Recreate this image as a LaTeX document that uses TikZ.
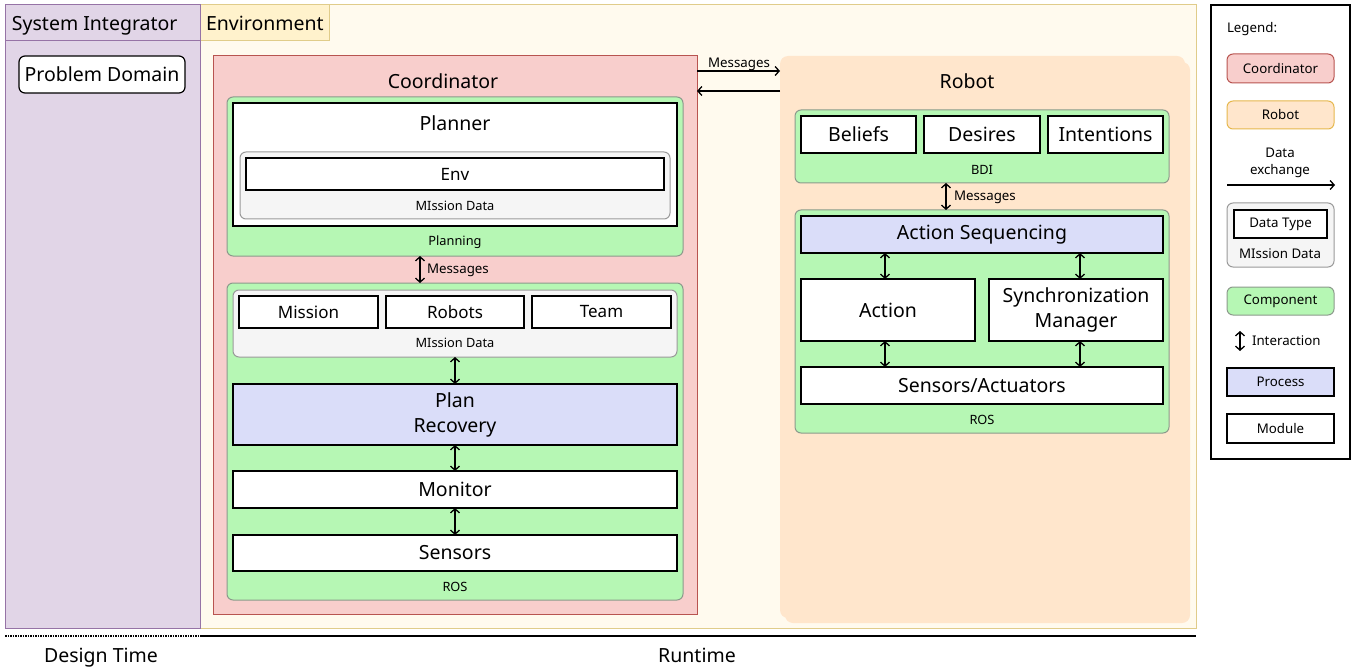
\documentclass[tikz,border=0pt]{standalone}
\usepackage{fontspec}
\setmainfont{Noto Sans}
\usetikzlibrary{arrows.meta,calc}

\definecolor{sifill}{HTML}{E1D5E7}
\definecolor{sidraw}{HTML}{9673A6}
\definecolor{envfill}{HTML}{FFFAEE}
\definecolor{envtab}{HTML}{FFF2CC}
\definecolor{envdraw}{HTML}{E0CC8A}
\definecolor{coordfill}{HTML}{F8CECC}
\definecolor{coorddraw}{HTML}{B85450}
\definecolor{robotfill}{HTML}{FFE6CC}
\definecolor{robotdraw}{HTML}{E6B84E}
\definecolor{compfill}{HTML}{B6F7B4}
\definecolor{compdraw}{HTML}{8C9A8C}
\definecolor{datafill}{HTML}{F5F5F5}
\definecolor{datadraw}{HTML}{9A9A9A}
\definecolor{procfill}{HTML}{DADDF9}

\newcommand\fsL{\fontsize{19.5}{25}\selectfont}
\newcommand\fsM{\fontsize{17}{20}\selectfont}
\newcommand\fsS{\fontsize{13.3}{17}\selectfont}
\newcommand\fsXS{\fontsize{12.8}{15}\selectfont}
\newcommand\fsT{\fontsize{19.5}{22}\selectfont}

% \blk{name}{style}{x1}{y1}{x2}{y2}{text}: a box given by its corners
\newcommand\blk[7]{\node[#2, minimum width={#5-#3}, minimum height={#6-#4},
  inner sep=0pt, outer sep=0pt, align=center] (#1) at ({(#3+#5)/2},{(#4+#6)/2}) {#7};}

\tikzset{
  module/.style={draw=black, line width=1.5pt, fill=white},
  process/.style={module, fill=procfill},
  component/.style={draw=compdraw, line width=1pt, fill=compfill, rounded corners=6pt},
  datagroup/.style={draw=datadraw, line width=1pt, fill=datafill, rounded corners=6pt},
  coordbox/.style={draw=coorddraw, line width=1pt, fill=coordfill},
  robotbox/.style={fill=robotfill, rounded corners=8pt},
  link/.style={line width=1.3pt, {Straight Barb[length=4pt,width=9pt]}-{Straight Barb[length=4pt,width=9pt]}},
  flow/.style={line width=1.3pt, -{Straight Barb[length=4pt,width=9pt]}},
  txt/.style={inner sep=0pt, outer sep=0pt, align=center},
  flat/.style={txt, text depth=0pt},
}

\begin{document}
\begin{tikzpicture}[x=1pt,y=-1pt]
\useasboundingbox (0,0) rectangle (1352,671);

% lanes
\blk{env}{draw=envdraw, line width=1pt, fill=envfill}{200}{5}{1196}{628}{}
\blk{envhead}{draw=envdraw, line width=1pt, fill=envtab}{200}{5}{329}{41}{}
\node[flat, anchor=west, font=\fsL] (envtitle) at (206,23) {Environment};
\blk{si}{draw=sidraw, line width=1pt, fill=sifill}{5}{5}{200}{628}{}
\blk{sihead}{draw=sidraw, line width=1pt, fill=sifill}{5}{5}{200}{41}{}
\node[flat, anchor=west, font=\fsL] (sititle) at (12,23) {System Integrator};

\blk{pd}{module, line width=1.2pt, rounded corners=6pt, font=\fsL}{19}{56}{185}{93}{Problem Domain}

% coordinator
\blk{coord}{coordbox}{213}{56}{697}{614}{}
\node[txt, font=\fsL] (coordtitle) at (443,81) {Coordinator};

\blk{planning}{component}{227}{97}{683}{256}{}
\node[txt, font=\fsXS] (planninglbl) at (455,242) {Planning};
\blk{planner}{module}{233}{103}{677}{226}{}
\node[txt, font=\fsL] (plannertitle) at (455,123) {Planner};
\blk{mdA}{datagroup}{240}{152}{670}{219}{}
\blk{envdata}{module, font=\fsM}{246}{158}{664}{190}{Env}
\node[txt, font=\fsXS] (mdAlbl) at (455,206) {MIssion Data};

\blk{rosA}{component}{227}{283}{683}{600}{}
\node[txt, font=\fsXS] (rosAlbl) at (455,587) {ROS};
\blk{mdB}{datagroup}{233}{290}{677}{357}{}
\blk{mission}{module, font=\fsM}{239}{296}{378}{328}{Mission}
\blk{robots}{module, font=\fsM}{386}{296}{524}{328}{Robots}
\blk{team}{module, font=\fsM}{532}{296}{671}{328}{Team}
\node[txt, font=\fsXS] (mdBlbl) at (455,343) {MIssion Data};
\blk{recovery}{process, font=\fsL}{233}{384}{677}{445}{Plan\\Recovery}
\blk{monitor}{module, font=\fsL}{233}{471}{677}{508}{Monitor}
\blk{sensors}{module, font=\fsL}{233}{535}{677}{571}{Sensors}

\draw[link] ([xshift=-35]planning.south) -- ([xshift=-35]rosA.north);
\node[txt, anchor=west, font=\fsS] (msgA) at (427,270) {Messages};
\draw[link] (mdB.south) -- (recovery.north);
\draw[link] (recovery.south) -- (monitor.north);
\draw[link] (monitor.south) -- (sensors.north);

% robot (stacked instances)
\fill[robotfill, rounded corners=8pt] (785,62) rectangle (1190,623);
\blk{robot}{robotbox}{780}{56}{1185}{618}{}
\node[txt, font=\fsL] (robottitle) at (967,81) {Robot};

\blk{bdi}{component}{795}{110}{1169}{183}{}
\blk{beliefs}{module, font=\fsL}{801}{116}{916}{153}{Beliefs}
\blk{desires}{module, font=\fsL}{924}{116}{1040}{153}{Desires}
\blk{intentions}{module, font=\fsL}{1048}{116}{1163}{153}{Intentions}
\node[txt, font=\fsXS] (bdilbl) at (982,170) {BDI};

\blk{rosB}{component}{795}{210}{1169}{433}{}
\node[txt, font=\fsXS] (rosBlbl) at (982,420) {ROS};
\blk{actseq}{process, font=\fsL}{801}{216}{1163}{253}{Action Sequencing}
\blk{action}{module, font=\fsL}{801}{279}{975}{341}{Action}
\blk{sync}{module, font=\fsL}{989}{279}{1163}{341}{Synchronization\\Manager}
\blk{sa}{module, font=\fsL}{801}{367}{1163}{404}{Sensors/Actuators}

\draw[link] ([xshift=-36]bdi.south) -- ([xshift=-36]rosB.north);
\node[txt, anchor=west, font=\fsS] (msgB) at (954,197) {Messages};
\draw[link] ([xshift=-3]action.north) -- ([xshift=-3]action.north |- actseq.south);
\draw[link] ([xshift=4]sync.north) -- ([xshift=4]sync.north |- actseq.south);
\draw[link] ([xshift=-3]action.south) -- ([xshift=-3]action.south |- sa.north);
\draw[link] ([xshift=4]sync.south) -- ([xshift=4]sync.south |- sa.north);

% coordinator <-> robot
\draw[flow] ($(coord.north east)+(0,15)$) -- ($(robot.north west)+(0,15)$);
\draw[flow] ($(robot.north west)+(0,35)$) -- ($(coord.north east)+(0,35)$);
\node[txt, font=\fsS] (msgC) at (739,64) {Messages};

% legend
\blk{legend}{draw=black, line width=1.3pt, fill=white}{1211}{5}{1350}{459}{}
\node[txt, anchor=west, font=\fsS] (legtitle) at (1227,29) {Legend:};
\blk{lcoord}{coordbox, rounded corners=6pt, font=\fsS}{1227}{54}{1334}{83}{Coordinator}
\blk{lrobot}{draw=robotdraw, line width=1pt, fill=robotfill, rounded corners=6pt, font=\fsS}{1227}{101}{1334}{129}{Robot}
\node[txt, font=\fsS] (ldx) at (1280,163) {Data\\exchange};
\coordinate (ldxa) at (1227,185);
\coordinate (ldxb) at (1335,185);
\draw[flow] (ldxa) -- (ldxb);
\blk{ldata}{datagroup}{1227}{203}{1334}{267}{}
\blk{ltype}{module, font=\fsS}{1234}{210}{1327}{238}{Data Type}
\node[txt, font=\fsS] (ldatalbl) at (1280,254) {MIssion Data};
\blk{lcomp}{component, font=\fsS}{1227}{287}{1334}{315}{Component}
\coordinate (lia) at (1240,331);
\coordinate (lib) at (1240,351);
\draw[link] (lia) -- (lib);
\node[txt, anchor=west, font=\fsS] (lint) at (1252,341) {Interaction};
\blk{lproc}{process, font=\fsS}{1227}{368}{1334}{396}{Process}
\blk{lmod}{module, font=\fsS}{1227}{414}{1334}{443}{Module}

% time axis
\coordinate (ta) at (5,636);
\coordinate (tb) at (200,636);
\coordinate (tc) at (1196,636);
\draw[line width=1.5pt, densely dotted] (ta) -- (tb);
\draw[line width=1.5pt] (tb) -- (tc);
\node[flat, font=\fsT] (design) at (101,655) {Design Time};
\node[flat, font=\fsT] (runtime) at (697,655) {Runtime};
\end{tikzpicture}
\end{document}
